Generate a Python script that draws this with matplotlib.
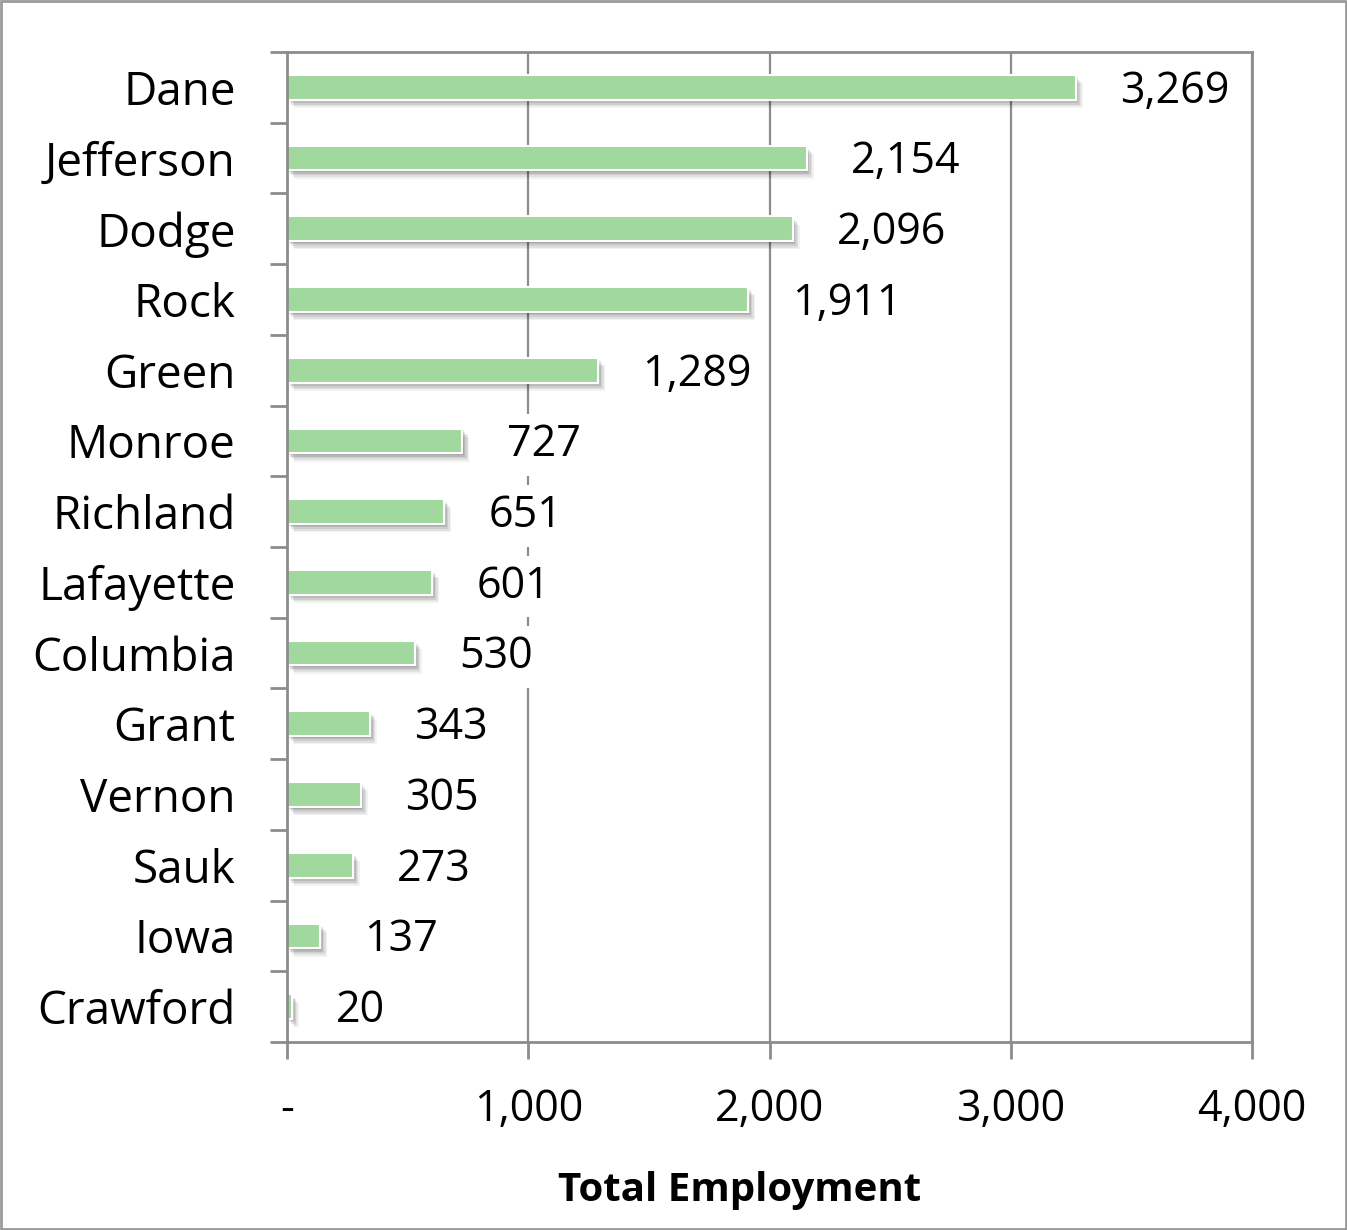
import matplotlib
matplotlib.use("Agg")
import matplotlib.pyplot as plt
import matplotlib.patheffects as pe
from matplotlib.patches import Rectangle

counties = ["Dane", "Jefferson", "Dodge", "Rock", "Green", "Monroe", "Richland",
            "Lafayette", "Columbia", "Grant", "Vernon", "Sauk", "Iowa", "Crawford"]
employment = [3269, 2154, 2096, 1911, 1289, 727, 651, 601, 530, 343, 305, 273, 137, 20]
xticks = [0, 1000, 2000, 3000, 4000]
xtick_labels = ["-", "1,000", "2,000", "3,000", "4,000"]
xlabel = "Total Employment"

FONT = "Open Sans"
FS = 31
BAR = "#a0d89e"
GRID = "#8c8c8c"

fig = plt.figure(figsize=(13.47, 12.30), dpi=100)
ax = fig.add_axes([287/1347, 1 - 1042/1230, (1252-287)/1347, (1042-52)/1230])

n = len(counties)
ypos = list(range(n))

shadow = [pe.SimplePatchShadow(offset=(o, -o*1.2), shadow_rgbFace="black", alpha=a)
          for o, a in [(5.0, 0.05), (4.0, 0.07), (3.0, 0.08), (2.0, 0.10), (1.0, 0.10)]] + [pe.Normal()]
bars = ax.barh(ypos, employment, height=0.35, color=BAR, edgecolor="white",
               linewidth=1.5, zorder=3)
for b in bars:
    b.set_path_effects(shadow)

ax.set_ylim(n - 0.5, -0.5)
ax.set_xlim(0, 4000)

ax.set_xticks(xticks)
ax.set_xticklabels(xtick_labels, fontsize=FS, family=FONT)
ax.set_yticks(ypos)
ax.set_yticklabels(counties, fontsize=33, family=FONT)
ax.tick_params(axis="y", length=0, pad=37)
ax.set_yticks([i - 0.5 for i in range(n + 1)], minor=True)
ax.tick_params(axis="y", which="minor", length=12, width=2, color=GRID, direction="out")
ax.tick_params(axis="x", length=12, width=2, color=GRID, direction="out", pad=21)

ax.grid(axis="x", color=GRID, linewidth=1.6, zorder=0)
ax.set_axisbelow(True)
for s in ax.spines.values():
    s.set_color(GRID)
    s.set_linewidth(2)
    s.set_zorder(6)

ax.set_xlabel(xlabel, fontsize=29, family=FONT, fontweight="bold")
ax.xaxis.set_label_coords((740 - 287) / 965, -(1190 - 1042) / 990)
ax.xaxis.label.set_va("center")

for y, v in zip(ypos, employment):
    ax.annotate(f"{v:,}", xy=(v, y), xytext=(32, -3), textcoords="offset points",
                va="center", ha="left", fontsize=FS, family=FONT, zorder=5,
                bbox=dict(boxstyle="square,pad=0.2", fc="white", ec="none"))

fig.patches.append(Rectangle((0.001, 0.001), 0.998, 0.998, transform=fig.transFigure,
                             fill=False, edgecolor="#9a9a9a", linewidth=2))

fig.savefig("out.png", dpi=100)
